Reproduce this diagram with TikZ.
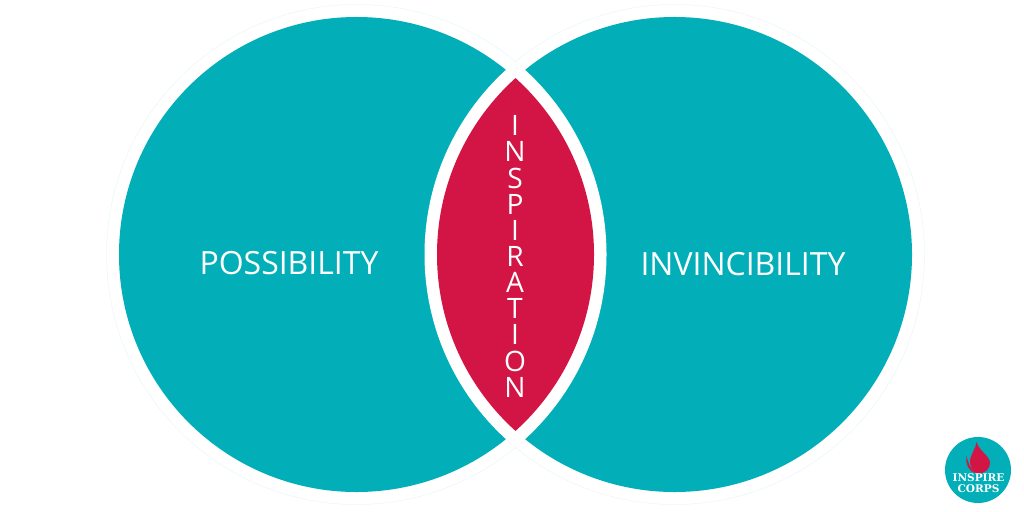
\documentclass[tikz,border=0pt]{standalone}
\usepackage{fontspec}
\setmainfont{Open Sans}
\newfontfamily\logofont{DejaVu Serif}
\usetikzlibrary{positioning}
\definecolor{venn}{HTML}{02AEB8}
\definecolor{core}{HTML}{D31545}
\definecolor{halo}{HTML}{DDF3F4}
\tikzset{
  label/.style={text=white,inner sep=0pt,font=\fontsize{45.5}{45.5}\selectfont},
  letters/.style={text=white,inner sep=0pt,align=center,font=\fontsize{40}{37.2}\selectfont},
  logotext/.style={text=white,inner sep=0pt,align=center,font=\logofont\bfseries\fontsize{15}{15.5}\selectfont}
}
\begin{document}
\begin{tikzpicture}[x=0.5mm,y=-0.5mm]
\useasboundingbox (0,0) rectangle (1024,512);
\fill[white] (0,0) rectangle (1024,512);

% circles
\draw[halo,line width=0.4pt] (356.5,254.5) circle [radius=125mm];
\draw[halo,line width=0.4pt] (674.5,254.5) circle [radius=125mm];
\fill[venn] (356.5,254.5) circle [radius=118.75mm];
\fill[venn] (674.5,254.5) circle [radius=118.75mm];

% overlap
\begin{scope}
\clip (356.5,254.5) circle [radius=125mm];
\fill[white] (674.5,254.5) circle [radius=125mm];
\end{scope}
\begin{scope}
\clip (356.5,254.5) circle [radius=118.75mm];
\fill[core] (674.5,254.5) circle [radius=118.75mm];
\end{scope}

\node[label] (possibility) at (289,263) {POSSIBILITY};
\node[label] (invincibility) at (743,264) {INVINCIBILITY};
\node[letters] (inspiration) at (515,256.5) {I\\N\\S\\P\\I\\R\\A\\T\\I\\O\\N};

% logo
\fill[venn] (978,470) circle [radius=16.5mm];
\fill[core] (976.5,442) .. controls (976,449) and (970,454) .. (970,462) .. controls (970.5,467) and (972,471) .. (977,473.5)
  .. controls (985,474) and (990,469) .. (990,463) .. controls (990,456) and (979,451) .. (976.5,442) -- cycle;
\fill[core] (966.5,456) .. controls (965.5,464) and (968,471) .. (976,473.5) .. controls (971,470) and (968.5,464) .. (966.5,456) -- cycle;
\node[logotext] (inspirecorps) at (978.5,483.5) {INSPIRE\\CORPS};
\end{tikzpicture}
\end{document}
